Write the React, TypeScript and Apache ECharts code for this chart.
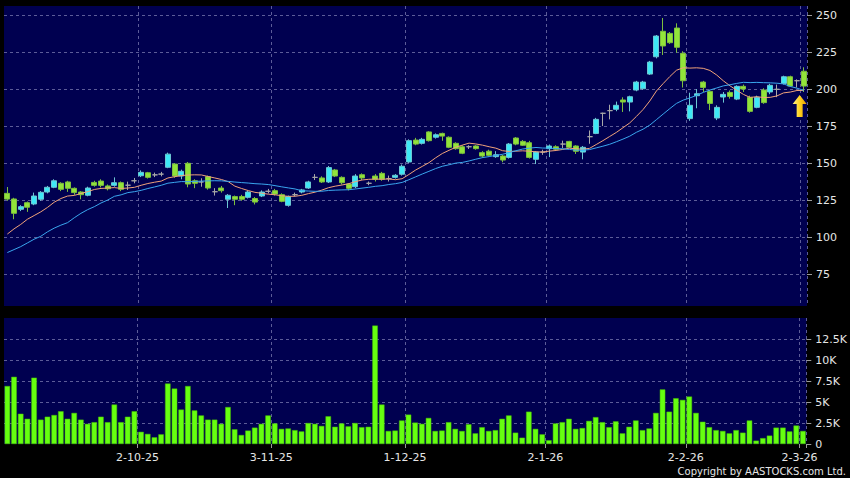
import React, { useEffect, useRef } from "react";
import * as echarts from "echarts";

// ---------- data ----------
const HOLIDAYS = [
  "2025-10-01", "2025-10-07", "2025-10-29", "2025-12-25", "2025-12-26",
  "2026-01-01", "2026-02-17", "2026-02-18", "2026-02-19",
];
const FIRST_DAY = "2025-09-03";
const LAST_DAY = "2026-03-02";

const openPrices = [
  129.5, 125.7, 118.7, 123.2, 122.3, 125.5, 130.4, 133.6, 136.3, 137.2,
  132.9, 130.4, 128.2, 136.9, 137.8, 134.5, 134.9, 136.7, 135, 138,
  141.4, 143.4, 142, 142.5, 147.1, 149.3, 141.2, 149.8, 138, 137.2,
  140.8, 130.6, 133.1, 125.5, 127.3, 127.3, 126.8, 126, 127.7, 130.9,
  131.3, 128.6, 121.4, 128.6, 130.4, 133.1, 140.3, 139.9, 137.2, 145.3,
  140.3, 135.8, 134, 142.1, 136.3, 141.2, 143, 139.4, 140.3, 142.4,
  150.7, 165.5, 163.3, 171, 167.4, 170, 167.4, 163.3, 161, 161,
  161.5, 157, 158, 154.3, 154.7, 153.8, 166.9, 164.6, 163.7, 152.5,
  157.4, 159.7, 161, 162.8, 164.6, 161.5, 157.4, 167.8, 170, 183.6,
  185.4, 186.3, 192.6, 191.2, 199.3, 200.2, 210.1, 221.8, 239, 237.6,
  241.2, 224.1, 180, 195.5, 204.7, 198.4, 180.4, 194.6, 197.7, 193.2,
  201.8, 194.4, 187.6, 199.3, 198, 199.8, 203.8, 208.3, 205.6, 212,
];
const closePrices = [
  125.6, 116, 120.5, 120.1, 127.7, 130.2, 133.6, 138, 132.2, 132.9,
  130, 128.6, 133.1, 134.9, 134.9, 132.6, 136.7, 132.2, 135, 138,
  143.7, 140.3, 142, 142.5, 156, 141.2, 144.4, 135.8, 136.3, 137.2,
  133.1, 130.6, 131.3, 128.2, 125.5, 125.5, 130.4, 123.6, 130.4, 130.9,
  129, 124.1, 127.3, 128.6, 131.8, 137.2, 140.3, 137.2, 146.9, 141.2,
  136.7, 132.9, 141.2, 139.9, 136.3, 139, 139, 139.4, 141.7, 147.8,
  165.1, 162.8, 166, 165.1, 169.1, 168.2, 160.6, 159.7, 156.6, 161,
  159.7, 154.7, 155.2, 155.6, 152, 162.8, 162.8, 162, 153.8, 157.4,
  157.4, 161.5, 159.3, 162.8, 160.6, 157.9, 160.6, 167.8, 179.5, 183.6,
  185.4, 189, 191.2, 194.8, 204.7, 204.7, 218.2, 235.8, 229.1, 231.3,
  228.2, 205.6, 189, 196.8, 201.1, 190.3, 187.6, 196.4, 195, 201.8,
  200, 184.9, 194.4, 190.8, 202.5, 199.8, 208.3, 202, 205.6, 202,
];
const lowPrices = [
  124.5, 112, 117.5, 117, 121.5, 124.5, 129.5, 133, 131, 130.5,
  128.5, 125.5, 127.5, 134, 133.5, 131.5, 134, 131, 131.8, 136.3,
  140.5, 139.5, 140.5, 141, 146.5, 140, 139, 133.6, 133, 134,
  132, 128, 130, 119.6, 121.5, 124.5, 126, 122, 127, 129.5,
  128, 123.5, 120.5, 127.5, 129.5, 132.5, 138.5, 136.5, 136.5, 140.5,
  135.5, 131.5, 133, 138.5, 135, 137.5, 138, 137.5, 139.5, 141.5,
  150, 162, 162.5, 164.5, 166.5, 165, 160, 159, 156, 159.5,
  159, 153.5, 154.5, 153.5, 150.5, 153, 162, 161.5, 153, 149.3,
  155.5, 154, 158.5, 160, 160, 156.1, 152.5, 163, 169.5, 175,
  179.5, 185, 184.5, 184.9, 198.5, 199.5, 209.5, 220.7, 223, 230.5,
  224.5, 201, 178.5, 187, 198, 185.8, 179, 190.8, 193.5, 192.5,
  198, 184, 187, 190, 196.5, 194.5, 203, 201.5, 201, 198,
];
const highPrices = [
  133.8, 126.5, 121.5, 124, 130, 131, 134.5, 139, 137, 138,
  133.5, 131, 134, 138, 139, 135.5, 140.3, 137.5, 137.4, 139.9,
  145, 144, 143.5, 144, 157, 150, 145.5, 150.7, 139, 139.7,
  141.5, 133, 134.5, 129, 128, 128.5, 131.5, 127, 131.5, 132.5,
  132.5, 129.5, 128, 130, 132.5, 138, 142.5, 141, 148, 146,
  141, 136.5, 142.5, 143, 137.5, 142.5, 144, 141.5, 142.5, 149,
  166, 167, 167, 171.5, 170, 170.5, 168, 164, 162, 162,
  162, 158, 159, 158, 155.5, 163.5, 167.5, 165.5, 165, 158,
  159, 162.5, 162, 165.1, 165, 162, 161.5, 172, 180.5, 184,
  189.4, 191.5, 194.4, 195.5, 205.5, 205.5, 219, 236.5, 248, 238.5,
  244.4, 225.5, 197.5, 200, 205.5, 199.5, 189, 198, 199, 202.5,
  203, 195.5, 195.5, 200.5, 203.5, 203, 209, 209, 206.5, 214.7,
];
// volume in thousands
const volumeK = [
  6.9, 8.0, 3.6, 3.0, 7.9, 2.9, 3.25, 3.45, 3.9, 3.0,
  3.7, 2.9, 2.4, 2.6, 3.25, 2.6, 4.7, 2.6, 3.25, 3.9,
  1.45, 1.2, 0.8, 1.15, 7.2, 6.6, 4.1, 6.9, 4.0, 3.4,
  2.9, 2.9, 2.4, 4.4, 1.75, 1.07, 1.6, 1.95, 2.4, 3.4,
  2.45, 1.8, 1.85, 1.65, 1.5, 2.5, 2.4, 2.15, 3.3, 2.05,
  2.45, 2.1, 2.5, 2.0, 2.05, 14.1, 4.7, 1.55, 1.6, 2.8,
  3.5, 2.55, 2.4, 3.1, 1.55, 1.6, 2.6, 1.8, 1.55, 2.35,
  1.27, 2.0, 1.55, 1.65, 3.0, 3.4, 1.35, 0.75, 3.85, 1.8,
  1.15, 0.45, 2.45, 2.6, 3.0, 1.8, 1.9, 2.75, 3.2, 2.6,
  2.0, 2.7, 1.27, 2.05, 2.8, 1.65, 1.85, 3.7, 6.5, 3.85,
  5.45, 5.25, 5.65, 3.7, 2.65, 2.0, 1.65, 1.55, 1.27, 1.65,
  1.35, 2.8, 0.4, 0.7, 1.0, 1.95, 1.95, 1.5, 2.2, 1.55,
];
// moving-average values before enough visible closes exist
const ma10Lead = [102, 105.5, 108.5, 112, 114.5, 117, 120, 123.5, 126];
const ma20Lead = [
  89.5, 91.5, 93.5, 96, 98.5, 100.5, 103.5, 106, 108, 109.7,
  113, 116, 118.5, 120.5, 123, 125, 127.5, 128.5, 130,
];
const priceTicks = { min: 50, max: 256.1, interval: 25 };
const volumeTicks = { min: 0, max: 15, interval: 2.5 };

// ---------- helpers ----------
function buildTradingDays(first: string, last: string, holidays: string[]) {
  const out: string[] = [];
  const [fy, fm, fd] = first.split("-").map(Number);
  const [ly, lm, ld] = last.split("-").map(Number);
  const d = new Date(Date.UTC(fy, fm - 1, fd));
  const end = Date.UTC(ly, lm - 1, ld);
  while (d.getTime() <= end) {
    const wd = d.getUTCDay();
    const s = d.toISOString().slice(0, 10);
    if (wd !== 0 && wd !== 6 && holidays.indexOf(s) < 0) out.push(s);
    d.setUTCDate(d.getUTCDate() + 1);
  }
  return out;
}
const dates = buildTradingDays(FIRST_DAY, LAST_DAY, HOLIDAYS);

function isMonthStart(i: number) {
  return i > 0 && dates[i].slice(5, 7) !== dates[i - 1].slice(5, 7);
}
function fmtDate(v: string) {
  const [y, m, d] = v.split("-");
  return `${Number(d)}-${Number(m)}-${y.slice(2)}`;
}
function movingAverage(n: number, lead: number[]) {
  return closePrices.map((_, i) => {
    if (i < n - 1) return lead[i];
    let s = 0;
    for (let j = i - n + 1; j <= i; j++) s += closePrices[j];
    return +(s / n).toFixed(2);
  });
}

const FONT = "DejaVu Sans";
const NAVY = "#000050";
const GRID_LINE = { color: "#5c5c98", type: [3, 3] as any, width: 1 };

export default function App() {
  const ref = useRef<HTMLDivElement>(null);
  useEffect(() => {
    if (!ref.current) return;
    const chart = echarts.init(ref.current, undefined, { renderer: "svg" });
    const ohlc = openPrices.map((o, i) => [o, closePrices[i], lowPrices[i], highPrices[i]]);
    const ma10 = movingAverage(10, ma10Lead);
    const ma20 = movingAverage(20, ma20Lead);
    const last = dates.length - 1;

    const monthFn = (index: number) => isMonthStart(index);

    chart.setOption({
      animation: false,
      backgroundColor: "#000",
      textStyle: { fontFamily: FONT },
      grid: [
        { left: 4, right: 43, top: 6, height: 305, show: true, backgroundColor: NAVY, borderWidth: 0 },
        { left: 4, right: 43, top: 318, height: 126, show: true, backgroundColor: NAVY, borderWidth: 0 },
      ],
      xAxis: [
        {
          type: "category", gridIndex: 0, data: dates, boundaryGap: true,
          axisLine: { show: false }, axisTick: { show: false }, axisLabel: { show: false },
          splitLine: { show: true, interval: monthFn, lineStyle: GRID_LINE },
        },
        {
          type: "category", gridIndex: 1, data: dates, boundaryGap: true,
          axisLine: { show: false },
          axisTick: { show: true, interval: monthFn, length: 4, lineStyle: { color: "#9a9a9a" } },
          axisLabel: {
            show: true, interval: monthFn, formatter: fmtDate, color: "#e6e6e6",
            fontSize: 11, fontFamily: FONT, margin: 8, padding: [0, 7, 0, 0],
          },
          splitLine: { show: true, interval: monthFn, lineStyle: GRID_LINE },
        },
      ],
      yAxis: [
        {
          type: "value", gridIndex: 0, position: "right", scale: false,
          min: priceTicks.min, max: priceTicks.max, interval: priceTicks.interval,
          axisLine: { show: false },
          axisTick: { show: true, length: 5, lineStyle: { color: "#9a9a9a" } },
          axisLabel: {
            color: "#e6e6e6", fontSize: 11, fontFamily: FONT, margin: 9,
            showMinLabel: false, showMaxLabel: false,
          },
          splitLine: { show: true, showMinLine: false, showMaxLine: false, lineStyle: GRID_LINE },
        },
        {
          type: "value", gridIndex: 1, position: "right",
          min: volumeTicks.min, max: volumeTicks.max, interval: volumeTicks.interval,
          axisLine: { show: false },
          axisTick: { show: true, length: 5, lineStyle: { color: "#9a9a9a" } },
          axisLabel: {
            color: "#e6e6e6", fontSize: 11, fontFamily: FONT, margin: 9,
            showMaxLabel: false,
            formatter: (v: number) => (v === 0 ? "0" : `${v}K`),
          },
          splitLine: { show: true, showMinLine: false, showMaxLine: false, lineStyle: GRID_LINE },
        },
      ],
      graphic: [
        { type: "rect", z: 10, shape: { x: 0, y: 306, width: 850, height: 11 }, style: { fill: "#000" } },
        {
          type: "text", right: 4, top: 466, z: 10,
          style: { text: "Copyright by AASTOCKS.com Ltd.", fill: "#e6e6e6", font: `10px "${FONT}"` },
        },
      ],
      series: [
        {
          type: "candlestick", name: "price", xAxisIndex: 0, yAxisIndex: 0, data: ohlc,
          barWidth: 5.5,
          itemStyle: {
            color: "#3ee8f6", color0: "#92e43a",
            borderColor: "#6cc6d2", borderColor0: "#7cbf3e", borderColorDoji: "#a8a8a8",
            borderWidth: 1,
          },
          markPoint: {
            silent: true,
            label: { show: false },
            data: [
              {
                coord: [dates[last], lowPrices[last]],
                symbol: "path://M7,0 L14,9 L10,9 L10,22 L4,22 L4,9 L0,9 Z",
                symbolSize: [14, 22],
                symbolOffset: [-4, 14],
                itemStyle: {
                  color: {
                    type: "linear", x: 0, y: 0, x2: 1, y2: 0,
                    colorStops: [
                      { offset: 0, color: "#fff38a" },
                      { offset: 0.5, color: "#ffd21e" },
                      { offset: 1, color: "#e79a00" },
                    ],
                  },
                },
              },
            ],
          },
        },
        {
          type: "line", name: "MA10", xAxisIndex: 0, yAxisIndex: 0, data: ma10,
          symbol: "none", lineStyle: { color: "#f0a27a", width: 1 }, itemStyle: { color: "#f0a27a" },
        },
        {
          type: "line", name: "MA20", xAxisIndex: 0, yAxisIndex: 0, data: ma20,
          symbol: "none", lineStyle: { color: "#3aa6ee", width: 1 }, itemStyle: { color: "#3aa6ee" },
        },
        {
          type: "bar", name: "volume", xAxisIndex: 1, yAxisIndex: 1, data: volumeK,
          barWidth: "82%",
          itemStyle: { color: "#66ff10", borderColor: "#48c000", borderWidth: 0.5 },
        },
      ],
    });
    return () => chart.dispose();
  }, []);

  return (
    <div
      ref={ref}
      style={{ position: "fixed", left: 0, top: 0, width: 850, height: 478, background: "#000" }}
    />
  );
}
